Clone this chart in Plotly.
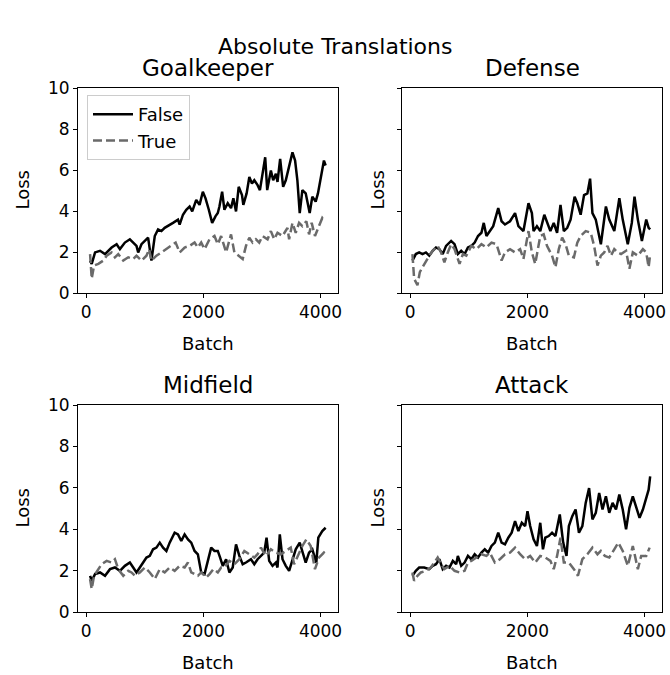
import plotly.graph_objects as go

# ---------------- data ----------------
titles = ["Goalkeeper", "Defense", "Midfield", "Attack"]
suptitle = "Absolute Translations"
x_ticks = [0, 2000, 4000]
y_ticks = [0, 2, 4, 6, 8, 10]

gk_false_x = [68, 96, 153, 238, 323, 436, 521, 577, 662, 747, 804, 860, 889, 945, 1002, 1058, 1115, 1172, 1228, 1285,
              1341, 1398, 1483, 1568, 1596, 1653, 1709, 1766, 1811, 1879, 1936, 1992, 2038, 2094, 2151, 2207, 2247, 2275,
              2321, 2360, 2417, 2473, 2513, 2558, 2604, 2660, 2683, 2739, 2785, 2830, 2870, 2926, 2966, 3056, 3090, 3153,
              3192, 3238, 3266, 3311, 3362, 3407, 3464, 3521, 3566, 3605, 3645, 3690, 3747, 3815, 3860, 3917, 3956, 4002,
              4030, 4058, 4087]
gk_false_y = [1.58, 1.42, 1.98, 2.06, 1.90, 2.22, 2.38, 2.14, 2.46, 2.62, 2.46, 2.30, 1.98, 2.38, 2.54, 2.70, 1.58, 2.78,
              3.10, 3.02, 3.18, 3.26, 3.42, 3.58, 3.34, 3.82, 4.06, 4.22, 3.98, 4.54, 4.30, 4.94, 4.62, 4.06, 3.42, 3.74,
              3.90, 4.22, 4.94, 4.06, 4.38, 4.14, 4.62, 3.98, 5.18, 4.78, 4.30, 4.86, 5.66, 5.34, 5.50, 5.26, 5.02, 6.62,
              5.02, 5.98, 5.50, 5.82, 5.42, 6.54, 5.18, 5.50, 6.14, 6.86, 6.46, 5.50, 3.90, 5.02, 4.86, 3.90, 4.70, 4.46,
              4.86, 5.66, 5.98, 6.46, 6.22]
gk_true_x = [68, 96, 136, 209, 294, 351, 436, 492, 549, 634, 719, 804, 860, 945, 1030, 1075, 1115, 1200, 1285, 1370,
             1455, 1528, 1596, 1681, 1766, 1851, 1907, 1964, 2021, 2106, 2190, 2247, 2304, 2360, 2389, 2434, 2473, 2530,
             2672, 2728, 2785, 2841, 2898, 2955, 3011, 3096, 3153, 3209, 3266, 3351, 3436, 3464, 3521, 3577, 3634, 3690,
             3758, 3804, 3849, 3905, 3973, 4030, 4075]
gk_true_y = [1.90, 0.70, 1.34, 1.42, 1.58, 1.82, 1.98, 1.74, 1.90, 1.58, 1.74, 1.66, 1.82, 1.58, 1.82, 2.14, 1.58, 1.82,
             1.98, 2.14, 2.30, 2.46, 1.98, 2.22, 2.30, 2.46, 2.22, 2.46, 2.14, 2.62, 2.78, 2.38, 2.78, 2.30, 1.98, 2.46,
             2.86, 1.98, 1.66, 2.30, 2.70, 2.46, 2.62, 2.46, 2.78, 2.62, 3.02, 2.62, 2.94, 2.78, 3.18, 2.62, 3.42, 2.94,
             3.42, 3.26, 3.50, 2.86, 3.42, 2.78, 3.26, 3.66, 3.50]

df_false_x = [40, 98, 155, 212, 270, 327, 385, 442, 499, 557, 614, 700, 758, 815, 872, 930, 987, 1045, 1102, 1159,
              1217, 1257, 1303, 1360, 1418, 1504, 1561, 1619, 1705, 1791, 1848, 1934, 2020, 2078, 2107, 2164, 2221,
              2290, 2336, 2394, 2451, 2508, 2566, 2623, 2681, 2738, 2807, 2853, 2910, 2968, 3025, 3071, 3111, 3168,
              3255, 3341, 3398, 3484, 3570, 3628, 3714, 3783, 3829, 3886, 3955, 4029, 4070, 4096]
df_false_y = [1.58, 1.90, 1.98, 1.90, 1.98, 1.82, 2.06, 2.22, 2.14, 1.90, 2.30, 2.54, 2.38, 1.90, 2.06, 1.90, 2.22, 2.30,
              2.46, 2.78, 2.94, 3.42, 2.78, 3.02, 3.26, 4.14, 3.50, 3.34, 3.50, 3.90, 3.26, 3.02, 4.38, 3.90, 3.02, 3.26,
              3.02, 3.82, 3.42, 3.02, 3.42, 2.94, 4.30, 3.02, 3.18, 3.58, 4.70, 4.38, 3.82, 4.78, 4.86, 5.58, 3.90, 3.58,
              2.38, 4.22, 3.58, 3.02, 4.62, 3.58, 2.38, 3.42, 4.70, 3.58, 2.54, 3.58, 3.18, 3.10]
df_true_x = [40, 69, 126, 166, 212, 270, 327, 385, 471, 528, 585, 643, 700, 758, 844, 901, 959, 1045, 1131, 1217, 1303,
             1389, 1475, 1561, 1619, 1705, 1791, 1877, 1934, 2020, 2078, 2135, 2221, 2279, 2336, 2422, 2480, 2537, 2594,
             2652, 2709, 2795, 2853, 2910, 2996, 3082, 3140, 3197, 3255, 3312, 3369, 3427, 3484, 3542, 3599, 3685, 3742,
             3800, 3886, 3972, 4029, 4070, 4090]
df_true_y = [1.90, 0.70, 0.38, 1.02, 1.26, 1.58, 1.82, 2.06, 2.30, 1.98, 1.50, 1.98, 2.38, 2.14, 1.42, 1.90, 1.82, 2.30,
             2.14, 2.38, 2.22, 2.46, 2.38, 1.58, 1.98, 2.14, 1.98, 2.14, 1.66, 3.02, 1.98, 1.42, 2.78, 2.86, 2.30, 1.82,
             1.26, 2.14, 2.70, 2.38, 1.82, 1.74, 2.46, 2.78, 3.02, 2.94, 2.30, 1.34, 1.82, 1.98, 2.30, 1.82, 2.14, 1.98,
             1.90, 2.06, 1.18, 1.98, 1.82, 2.14, 1.98, 1.26, 1.74]

mf_false_x = [68, 96, 153, 238, 323, 408, 492, 577, 662, 747, 804, 860, 917, 974, 1030, 1087, 1143, 1200, 1257, 1313,
              1370, 1426, 1511, 1568, 1624, 1681, 1738, 1794, 1851, 1907, 1964, 2021, 2077, 2134, 2190, 2247, 2287, 2332,
              2389, 2445, 2502, 2558, 2615, 2672, 2728, 2813, 2870, 2926, 2983, 3039, 3079, 3124, 3181, 3238, 3266, 3305,
              3351, 3407, 3464, 3521, 3577, 3645, 3690, 3747, 3804, 3860, 3928, 3962, 4030, 4087]
mf_false_y = [1.75, 1.51, 1.83, 1.91, 1.75, 2.07, 2.15, 1.99, 2.23, 2.39, 2.15, 1.91, 2.15, 2.39, 2.63, 2.71, 3.03, 3.11,
              3.35, 3.11, 2.95, 3.35, 3.83, 3.75, 3.43, 3.75, 3.51, 3.35, 2.95, 2.79, 1.91, 1.83, 2.47, 3.11, 2.95, 2.95,
              2.63, 2.23, 2.55, 1.91, 2.15, 3.27, 2.71, 2.31, 2.39, 2.55, 2.31, 2.55, 2.71, 2.87, 3.59, 2.47, 2.23, 2.39,
              2.15, 3.75, 2.55, 2.23, 1.99, 2.55, 3.03, 3.35, 2.87, 2.39, 2.87, 3.03, 2.39, 3.59, 3.91, 4.07]
mf_true_x = [68, 96, 136, 209, 266, 351, 436, 492, 549, 634, 719, 775, 832, 917, 1002, 1087, 1172, 1257, 1341, 1426,
             1511, 1596, 1681, 1738, 1794, 1851, 1907, 1964, 2049, 2106, 2173, 2247, 2304, 2360, 2445, 2530, 2615, 2700,
             2785, 2870, 2926, 2983, 3068, 3153, 3238, 3322, 3407, 3492, 3549, 3634, 3690, 3758, 3832, 3905, 3973, 4058,
             4087]
mf_true_y = [1.59, 1.11, 1.75, 2.07, 2.31, 2.47, 2.39, 2.55, 2.07, 1.75, 1.99, 1.91, 1.75, 1.91, 2.15, 1.91, 1.59, 2.07,
             1.91, 2.15, 1.99, 2.23, 2.15, 2.39, 1.91, 1.83, 1.75, 1.91, 1.67, 1.83, 2.07, 1.91, 2.15, 2.15, 2.47, 2.31,
             2.55, 2.95, 2.79, 2.63, 2.79, 3.11, 2.71, 3.03, 2.87, 2.79, 2.95, 3.11, 2.31, 2.87, 3.19, 3.51, 3.19, 2.07,
             2.63, 2.87, 2.79]

at_false_x = [40, 98, 155, 241, 327, 385, 442, 499, 557, 614, 672, 729, 786, 815, 872, 930, 987, 1045, 1102, 1159, 1217,
              1274, 1332, 1389, 1446, 1504, 1561, 1619, 1676, 1733, 1791, 1848, 1906, 1963, 2003, 2049, 2107, 2164, 2221,
              2267, 2307, 2365, 2422, 2480, 2554, 2612, 2669, 2709, 2767, 2824, 2881, 2939, 2996, 3054, 3111, 3168, 3226,
              3283, 3341, 3398, 3455, 3513, 3570, 3628, 3685, 3742, 3800, 3857, 3915, 3972, 4029, 4070, 4096]
at_false_y = [1.75, 1.99, 2.15, 2.15, 2.07, 2.23, 2.31, 2.55, 2.07, 2.23, 2.15, 2.47, 2.31, 2.71, 2.23, 2.39, 2.71, 2.55,
              2.79, 2.63, 2.87, 3.03, 2.87, 3.19, 3.35, 3.83, 3.35, 3.27, 3.59, 3.83, 4.39, 3.91, 4.31, 4.15, 4.87, 4.15,
              3.51, 3.19, 4.31, 3.03, 3.59, 3.67, 3.83, 3.67, 4.71, 3.35, 2.71, 4.15, 4.63, 4.95, 3.83, 4.15, 5.27, 5.99,
              4.47, 4.79, 5.75, 4.95, 5.59, 4.79, 5.27, 4.95, 5.67, 4.95, 3.99, 5.03, 5.59, 5.11, 4.55, 4.95, 5.59, 5.91,
              6.55]
at_true_x = [40, 69, 126, 184, 270, 356, 413, 471, 528, 585, 672, 758, 844, 930, 987, 1045, 1131, 1217, 1303, 1360, 1446,
             1533, 1619, 1705, 1791, 1877, 1963, 2049, 2135, 2221, 2307, 2394, 2451, 2508, 2566, 2623, 2709, 2795, 2864,
             2939, 3025, 3111, 3197, 3255, 3323, 3398, 3484, 3553, 3628, 3714, 3800, 3886, 3943, 4029, 4087]
at_true_y = [1.91, 1.51, 1.75, 1.91, 1.99, 2.15, 2.39, 2.63, 2.31, 2.07, 2.23, 1.99, 1.91, 1.99, 2.39, 2.47, 2.63, 2.79,
             2.71, 2.87, 2.39, 2.55, 2.79, 2.87, 3.11, 2.79, 2.55, 2.71, 2.39, 2.71, 2.63, 2.47, 2.07, 2.71, 3.59, 2.39,
             2.39, 2.07, 1.75, 2.55, 2.79, 3.11, 2.79, 2.95, 2.71, 2.63, 3.03, 3.35, 2.95, 2.23, 3.19, 2.07, 2.71, 2.71,
             3.11]

series = [
    (gk_false_x, gk_false_y, gk_true_x, gk_true_y),
    (df_false_x, df_false_y, df_true_x, df_true_y),
    (mf_false_x, mf_false_y, mf_true_x, mf_true_y),
    (at_false_x, at_false_y, at_true_x, at_true_y),
]

# ---------------- layout ----------------
W, H = 670, 675
FONT = "DejaVu Sans"
BLACK = "#000000"
GRAY = "#6a6a6a"

# panel boxes in pixels (left, right, top, bottom)
boxes = [(78, 338, 88, 293), (402, 662, 88, 293), (78, 338, 405, 612), (402, 662, 405, 612)]

fig = go.Figure()

for i, ((fx, fy, tx, ty), (l, r, t, b)) in enumerate(zip(series, boxes)):
    n = "" if i == 0 else str(i + 1)
    fig.add_trace(go.Scatter(x=fx, y=fy, mode="lines", name="False",
                             line=dict(color=BLACK, width=2.5),
                             xaxis="x" + n, yaxis="y" + n, showlegend=(i == 0)))
    fig.add_trace(go.Scatter(x=tx, y=ty, mode="lines", name="True",
                             line=dict(color=GRAY, width=2.5, dash="9px,4px"),
                             xaxis="x" + n, yaxis="y" + n, showlegend=(i == 0)))
    common = dict(showline=True, linecolor="black", linewidth=1, mirror=True,
                  ticks="outside", ticklen=4, tickwidth=1, tickcolor="black",
                  showgrid=False, zeroline=False, automargin=False,
                  tickfont=dict(family=FONT, size=17, color="black"))
    fig.update_layout(**{
        "xaxis" + n: dict(domain=[l / W, r / W], range=[-138, 4298], anchor="y" + n,
                          tickvals=x_ticks, ticktext=[str(v) for v in x_ticks], **common),
        "yaxis" + n: dict(domain=[1 - b / H, 1 - t / H], range=[0, 10], anchor="x" + n,
                          tickvals=y_ticks, ticktext=[str(v) for v in y_ticks],
                          showticklabels=(i % 2 == 0), **common),
    })
    cx = (l + r) / 2 / W
    # subplot title
    fig.add_annotation(x=cx, y=1 - (t - 20) / H, xref="paper", yref="paper", text=titles[i],
                       showarrow=False, font=dict(family=FONT, size=23, color="black"),
                       xanchor="center", yanchor="middle")
    # x label
    fig.add_annotation(x=cx, y=1 - (b + 50) / H, xref="paper", yref="paper", text="Batch",
                       showarrow=False, font=dict(family=FONT, size=18, color="black"),
                       xanchor="center", yanchor="middle")
    # y label
    ylx = 22 if i % 2 == 0 else 377
    fig.add_annotation(x=ylx / W, y=1 - (t + b) / 2 / H, xref="paper", yref="paper", text="Loss",
                       showarrow=False, textangle=-90, font=dict(family=FONT, size=18, color="black"),
                       xanchor="center", yanchor="middle")

fig.add_annotation(x=0.5, y=1 - 47 / H, xref="paper", yref="paper", text=suptitle,
                   showarrow=False, font=dict(family=FONT, size=22, color="black"),
                   xanchor="center", yanchor="middle")

fig.update_layout(
    width=W, height=H,
    margin=dict(l=0, r=0, t=0, b=0, pad=0, autoexpand=False),
    paper_bgcolor="white", plot_bgcolor="white",
    font=dict(family=FONT, color="black"),
    legend=dict(x=87 / W, y=1 - 95 / H, xanchor="left", yanchor="top",
                bgcolor="rgba(255,255,255,0.8)", bordercolor="#cccccc", borderwidth=1,
                font=dict(family=FONT, size=18, color="black"), itemwidth=40,
                tracegroupgap=0),
)

fig.write_html("out.html")
